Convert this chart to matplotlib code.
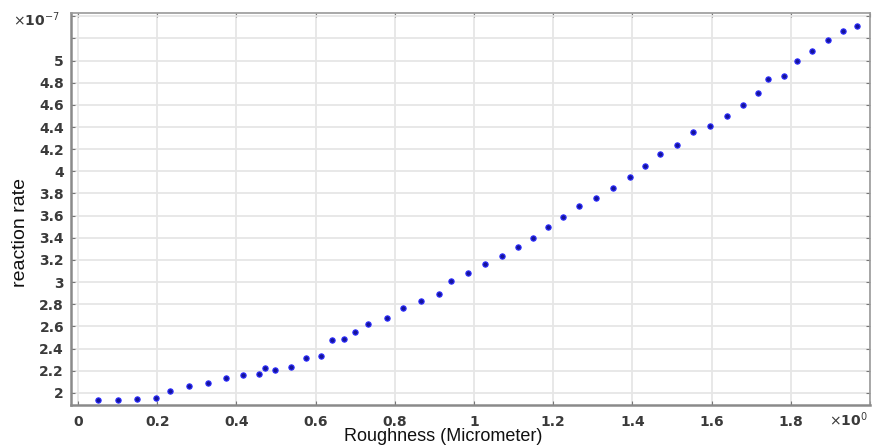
import matplotlib
matplotlib.use("Agg")
import matplotlib.pyplot as plt
from matplotlib.ticker import FixedLocator, FixedFormatter

# Roughness (micrometer) and reaction rate (x1e-7)
roughness = [0.050, 0.100, 0.149, 0.197, 0.231, 0.281, 0.329, 0.374, 0.417, 0.456,
             0.472, 0.497, 0.538, 0.575, 0.614, 0.641, 0.671, 0.700, 0.732, 0.779,
             0.820, 0.867, 0.911, 0.942, 0.986, 1.027, 1.070, 1.111, 1.150, 1.187,
             1.224, 1.266, 1.309, 1.351, 1.394, 1.433, 1.469, 1.512, 1.552, 1.597,
             1.638, 1.680, 1.717, 1.743, 1.782, 1.815, 1.853, 1.893, 1.931, 1.966]
reaction_rate = [1.934, 1.934, 1.943, 1.955, 2.018, 2.060, 2.090, 2.136, 2.160, 2.166,
                 2.226, 2.202, 2.229, 2.313, 2.334, 2.476, 2.482, 2.546, 2.618, 2.678,
                 2.762, 2.826, 2.889, 3.012, 3.079, 3.163, 3.239, 3.316, 3.400, 3.500,
                 3.590, 3.684, 3.759, 3.852, 3.949, 4.051, 4.156, 4.235, 4.352, 4.409,
                 4.502, 4.596, 4.705, 4.834, 4.864, 4.994, 5.087, 5.186, 5.270, 5.310]

x_ticks = [0, 0.2, 0.4, 0.6, 0.8, 1.0, 1.2, 1.4, 1.6, 1.8, 2.0]
x_tick_labels = ["0", "0.2", "0.4", "0.6", "0.8", "1", "1.2", "1.4", "1.6", "1.8", ""]
y_ticks = [2.0, 2.2, 2.4, 2.6, 2.8, 3.0, 3.2, 3.4, 3.6, 3.8, 4.0, 4.2, 4.4, 4.6,
           4.8, 5.0, 5.2, 5.4]
y_tick_labels = ["2", "2.2", "2.4", "2.6", "2.8", "3", "3.2", "3.4", "3.6", "3.8",
                 "4", "4.2", "4.4", "4.6", "4.8", "5", "", ""]

fig = plt.figure(figsize=(8.74, 4.46), dpi=100)
ax = fig.add_axes([0.0812, 0.0919, 0.9142, 0.879])

ax.plot(roughness, reaction_rate, linestyle="none", marker="o",
        markersize=3.8, markerfacecolor="#14149a", markeredgecolor="#2a2aff",
        markeredgewidth=0.8, zorder=3)

ax.set_xlim(-0.018, 2.0)
ax.set_ylim(1.89, 5.43)

ax.xaxis.set_major_locator(FixedLocator(x_ticks))
ax.xaxis.set_major_formatter(FixedFormatter(x_tick_labels))
ax.yaxis.set_major_locator(FixedLocator(y_ticks))
ax.yaxis.set_major_formatter(FixedFormatter(y_tick_labels))

ax.grid(True, color="#e6e6e6", linewidth=1.3, zorder=0)
ax.set_axisbelow(True)

ax.tick_params(axis="both", direction="in", length=3, width=0.8, color="#777777",
               top=True, right=True, labelsize=10, labelcolor="#3a3a3a")
ax.tick_params(axis="x", pad=7)
ax.tick_params(axis="y", pad=5)
for lbl in ax.get_xticklabels() + ax.get_yticklabels():
    lbl.set_fontweight("bold")

for side in ["left", "bottom"]:
    ax.spines[side].set_color("#8a8a8a")
    ax.spines[side].set_linewidth(1.8)
for side in ["top", "right"]:
    ax.spines[side].set_color("#9a9a9a")
    ax.spines[side].set_linewidth(1.2)

ax.set_xlabel("Roughness (Micrometer)", fontsize=13, family="Liberation Sans",
              color="#111111")
ax.xaxis.set_label_coords(0.466, -0.058)
ax.set_ylabel("reaction rate", fontsize=14, family="Liberation Sans",
              color="#111111")
ax.yaxis.set_label_coords(-0.052, 0.44)

fig.text(0.015, 0.955, r"$\times$10$^{-7}$", fontsize=10, color="#3a3a3a",
         fontweight="bold", ha="left", va="center")
fig.text(0.993, 0.058, r"$\times$10$^{0}$", fontsize=10, color="#3a3a3a",
         fontweight="bold", ha="right", va="center")

fig.savefig("out.png", dpi=100, facecolor="white")
